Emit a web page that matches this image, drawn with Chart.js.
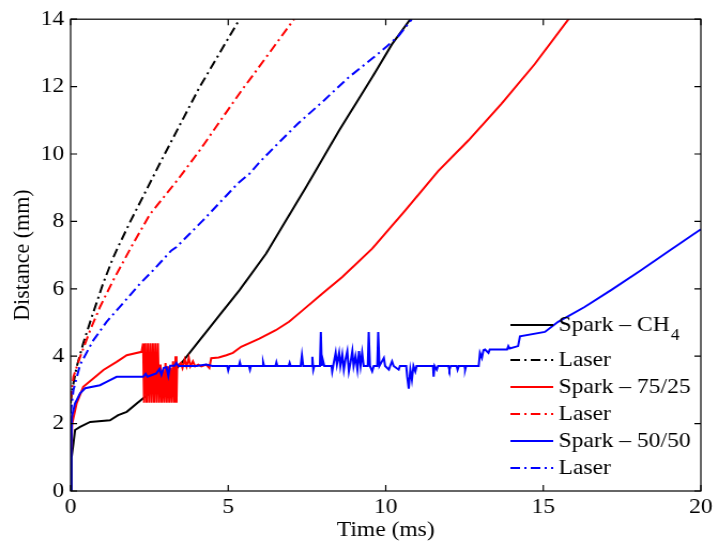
<!DOCTYPE html>
<html><head><meta charset="utf-8">
<script src="https://cdn.jsdelivr.net/npm/chart.js@4.4.0/dist/chart.umd.min.js"></script>
<style>
html,body{margin:0;padding:0;background:#fff;overflow:hidden}
#wrap{position:absolute;left:0;top:0;width:669px;height:545px;transform:scaleX(1.07);transform-origin:0 0}
</style></head><body>
<div id="wrap"><canvas id="c" width="669" height="545"></canvas></div>
<script>
// ---- data (time in ms, distance in mm) ----
const xTicks = [0, 5, 10, 15, 20];
const yTicks = [0, 2, 4, 6, 8, 10, 12, 14];
const labels = ['Spark – CH₄', 'Laser', 'Spark – 75/25', 'Laser', 'Spark – 50/50', 'Laser'];

const sparkCH4 = [[0,0],[0.03,1.0],[0.09,1.41],[0.14,1.81],[0.3,1.9],[0.62,2.05],[1.25,2.1],[1.51,2.25],[1.78,2.35],[2.3,2.75],[2.83,3.14],[3.46,3.73],[4.09,4.47],[4.72,5.21],[5.36,5.96],[6.2,7.04],[7.2,8.6],[7.46,9.0],[8.52,10.7],[9.57,12.28],[10.2,13.26],[10.78,14.0]];
const laserCH4 = [[0,2.6],[0.05,3.0],[0.19,3.68],[0.4,4.38],[0.67,5.16],[1.03,6.16],[1.34,6.9],[1.51,7.25],[1.88,7.97],[2.93,9.9],[4.09,11.98],[5.36,14.0]];
const spark7525 = [[0,1.0],[0.05,2.0],[0.19,2.6],[0.4,3.09],[0.72,3.34],[1.04,3.59],[1.46,3.83],[1.78,4.03],[2.25,4.13],
  [2.3,4.38],[2.33,2.62],[2.37,4.38],[2.41,2.62],[2.45,4.38],[2.49,2.62],[2.53,4.38],[2.57,2.62],[2.61,4.38],[2.65,2.62],[2.69,4.38],[2.73,2.62],[2.77,4.38],[2.81,2.62],[2.85,3.75],[2.89,2.62],[2.93,3.6],[2.97,2.62],[3.01,3.8],[3.05,2.62],[3.09,3.7],[3.13,2.62],[3.17,3.65],[3.21,2.62],[3.25,3.85],[3.29,2.62],[3.33,4.0],[3.36,2.62],[3.38,3.7],
  [3.5,3.8],[3.55,3.65],[3.62,3.9],[3.68,3.7],[3.75,3.95],[3.8,3.7],[3.88,3.85],[3.95,3.7],[4.05,3.75],[4.15,3.7],[4.3,3.75],[4.4,3.65],[4.46,3.94],[4.7,3.96],[4.94,4.03],[5.15,4.1],[5.41,4.28],[5.99,4.52],[6.51,4.77],[6.93,5.02],[7.36,5.36],[7.99,5.86],[8.62,6.35],[9.57,7.19],[10.62,8.33],[11.67,9.5],[12.62,10.4],[13.67,11.49],[14.73,12.67],[15.84,14.05]];
const laser7525 = [[0,2.7],[0.09,3.39],[0.3,3.98],[0.62,4.77],[0.93,5.46],[1.35,6.25],[1.93,7.25],[2.51,8.2],[3.41,9.25],[4.09,10.1],[5.09,11.44],[5.46,11.93],[5.78,12.33],[7.09,14.0]];
const spark5050 = [[0,0],[0.02,1.3],[0.04,2.2],[0.14,2.6],[0.3,2.9],[0.46,3.05],[0.93,3.14],[1.14,3.24],[1.46,3.39],[2.3,3.39],[2.38,3.48],[2.44,3.39],[2.6,3.45],[2.72,3.49],[2.82,3.62],[2.88,3.45],[2.95,3.65],[3.04,3.68],[3.1,3.42],[3.16,3.72],[3.3,3.72],[3.36,3.8],[3.42,3.71],[4.0,3.71],[4.3,3.75],[4.5,3.71],[4.97,3.71],[5.0,3.58],[5.04,3.71],[5.34,3.71],[5.37,3.82],[5.4,3.71],[5.66,3.71],[5.69,3.6],[5.72,3.71],[6.08,3.71],[6.11,3.82],[6.14,3.71],[6.5,3.71],[6.53,3.82],[6.56,3.71],[6.92,3.71],[6.95,3.8],[6.98,3.71],[7.3,3.71],[7.34,4.03],[7.38,3.71],[7.65,3.71],[7.67,3.98],[7.7,3.6],[7.73,3.71],[7.91,3.71],[7.94,4.72],[7.97,3.71],[8.0,3.9],[8.05,3.71],[8.28,3.71],[8.3,3.55],[8.33,3.71],[8.41,4.1],[8.45,3.75],[8.52,4.1],[8.56,3.71],[8.62,4.05],[8.67,3.6],[8.72,3.9],[8.78,4.15],[8.83,3.55],[8.88,3.8],[8.94,4.15],[8.98,3.71],[9.04,4.0],[9.1,3.6],[9.15,4.15],[9.2,3.71],[9.25,4.1],[9.3,3.71],[9.43,3.71],[9.46,4.72],[9.5,3.71],[9.57,3.55],[9.62,3.71],[9.73,3.71],[9.76,4.72],[9.8,3.71],[9.94,3.95],[9.98,3.71],[10.1,3.6],[10.14,3.71],[10.2,3.85],[10.25,3.71],[10.41,3.6],[10.45,3.71],[10.65,3.71],[10.68,3.4],[10.73,3.04],[10.78,3.6],[10.83,3.3],[10.88,3.71],[10.94,3.55],[10.98,3.71],[11.5,3.71],[11.52,3.39],[11.55,3.71],[11.62,3.6],[11.66,3.71],[11.99,3.71],[12.02,3.6],[12.06,3.71],[12.25,3.71],[12.28,3.6],[12.32,3.71],[12.5,3.71],[12.52,3.6],[12.55,3.71],[12.95,3.71],[12.99,4.1],[13.05,3.95],[13.1,4.18],[13.15,4.2],[13.26,4.1],[13.3,4.2],[13.85,4.2],[13.89,4.3],[13.93,4.23],[14.2,4.3],[14.26,4.59],[15.05,4.72],[15.47,5.02],[16.31,5.46],[17.15,5.96],[18.1,6.55],[18.94,7.09],[19.94,7.73],[20,7.76]];
const laser5050 = [[0,2.3],[0.09,3.0],[0.3,3.75],[0.72,4.47],[1.14,5.02],[1.51,5.41],[2.2,6.15],[2.62,6.55],[3.2,7.14],[3.36,7.24],[4.2,8.03],[5.3,9.12],[5.67,9.41],[6.0,9.76],[6.46,10.2],[7.2,10.89],[8.04,11.59],[8.83,12.28],[9.62,12.87],[10.04,13.2],[10.41,13.51],[10.83,14.0]];

const series = [sparkCH4, laserCH4, spark7525, laser7525, spark5050, laser5050];
const colors = ['#000000', '#000000', '#ff0000', '#ff0000', '#0000ff', '#0000ff'];
const dashDot = [9, 4, 2, 4];

const FONT = '"Liberation Serif", "Times New Roman", serif';

const datasets = series.map((s, i) => ({
  label: labels[i],
  data: s.map(([x, y]) => ({x, y})),
  borderColor: colors[i],
  backgroundColor: colors[i],
  borderWidth: 2,
  borderDash: i % 2 === 1 ? dashDot : [],
  pointRadius: 0,
  tension: 0,
  fill: false,
  order: 5 - i
}));

const frame = {
  id: 'frame',
  afterDraw(chart) {
    const {ctx, chartArea: a, scales: {x, y}} = chart;
    ctx.save();
    ctx.strokeStyle = '#000';
    ctx.lineWidth = 1.2;
    ctx.setLineDash([]);
    ctx.strokeRect(a.left, a.top, a.right - a.left, a.bottom - a.top);
    ctx.beginPath();
    xTicks.forEach(v => {
      const px = x.getPixelForValue(v);
      ctx.moveTo(px, a.bottom); ctx.lineTo(px, a.bottom - 6);
      ctx.moveTo(px, a.top); ctx.lineTo(px, a.top + 6);
    });
    yTicks.forEach(v => {
      const py = y.getPixelForValue(v);
      ctx.moveTo(a.left, py); ctx.lineTo(a.left + 6, py);
      ctx.moveTo(a.right, py); ctx.lineTo(a.right - 6, py);
    });
    ctx.stroke();
    ctx.restore();
  }
};

const legendIn = {
  id: 'legendIn',
  afterDraw(chart) {
    const c = chart.ctx;
    const x0 = 477, x1 = 517, tx = 522;
    const ys = [325, 360, 387, 414, 441, 468];
    const subs = {'₀':'0','₁':'1','₂':'2','₃':'3','₄':'4','₅':'5','₆':'6','₇':'7','₈':'8','₉':'9'};
    chart.data.datasets.forEach((ds, i) => {
      c.save();
      c.strokeStyle = ds.borderColor;
      c.lineWidth = ds.borderWidth;
      c.setLineDash(ds.borderDash || []);
      c.beginPath(); c.moveTo(x0, ys[i]); c.lineTo(x1, ys[i]); c.stroke();
      c.setLineDash([]);
      c.fillStyle = '#000';
      c.textBaseline = 'middle';
      c.textAlign = 'left';
      c.font = '22px ' + FONT;
      let main = ds.label, sub = '';
      const last = main.slice(-1);
      if (subs[last]) { sub = subs[last]; main = main.slice(0, -1); }
      c.fillText(main, tx, ys[i]);
      if (sub) {
        const w = c.measureText(main).width;
        c.font = '16px ' + FONT;
        c.fillText(sub, tx + w + 1, ys[i] + 11);
      }
      c.restore();
    });
  }
};

new Chart(document.getElementById('c'), {
  type: 'line',
  data: {datasets},
  plugins: [frame, legendIn],
  options: {
    responsive: false,
    animation: false,
    devicePixelRatio: 1,
    parsing: true,
    layout: {padding: {top: 18, right: 12, bottom: 0, left: 0}},
    plugins: {legend: {display: false}, tooltip: {enabled: false}},
    scales: {
      x: {
        type: 'linear', min: 0, max: 20,
        afterBuildTicks: s => { s.ticks = xTicks.map(v => ({value: v})); },
        afterFit: s => { s.height = 54; },
        ticks: {font: {family: FONT, size: 22}, color: '#000', padding: 3, maxRotation: 0, autoSkip: false},
        grid: {display: false, drawTicks: false},
        border: {display: false},
        title: {display: true, text: 'Time (ms)', color: '#000', font: {family: FONT, size: 22}, padding: {top: 0, bottom: 2}}
      },
      y: {
        type: 'linear', min: 0, max: 14,
        afterBuildTicks: s => { s.ticks = yTicks.map(v => ({value: v})); },
        afterFit: s => { s.width = 66; },
        ticks: {font: {family: FONT, size: 22}, color: '#000', padding: 6, autoSkip: false},
        grid: {display: false, drawTicks: false},
        border: {display: false},
        title: {display: true, text: 'Distance (mm)', color: '#000', font: {family: FONT, size: 22}, padding: {top: 8, bottom: 0}}
      }
    }
  }
});
</script>
</body></html>
